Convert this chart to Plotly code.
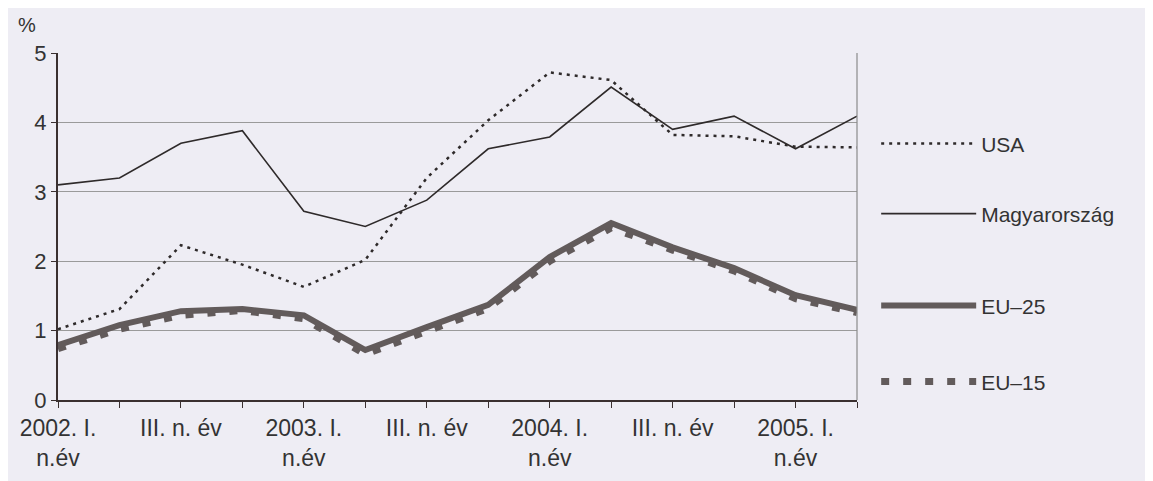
import plotly.graph_objects as go

# quarters 2002 Q1 .. 2005 Q2
quarters = ["2002. I.", "2002. II.", "2002. III.", "2002. IV.",
            "2003. I.", "2003. II.", "2003. III.", "2003. IV.",
            "2004. I.", "2004. II.", "2004. III.", "2004. IV.",
            "2005. I.", "2005. II."]
tick_labels = ["2002. I.<br>n.év", "", "III. n. év", "",
               "2003. I.<br>n.év", "", "III. n. év", "",
               "2004. I.<br>n.év", "", "III. n. év", "",
               "2005. I.<br>n.év", ""]

usa = [1.02, 1.31, 2.23, 1.95, 1.63, 2.02, 3.20, 4.03, 4.72, 4.61, 3.82, 3.80, 3.65, 3.64]
magyar = [3.10, 3.20, 3.70, 3.88, 2.72, 2.50, 2.88, 3.62, 3.79, 4.51, 3.90, 4.09, 3.62, 4.09]
eu25 = [0.79, 1.08, 1.28, 1.31, 1.22, 0.72, 1.05, 1.37, 2.06, 2.55, 2.20, 1.90, 1.51, 1.30]
eu15 = [0.74, 1.02, 1.22, 1.29, 1.17, 0.66, 0.99, 1.32, 2.00, 2.48, 2.16, 1.86, 1.46, 1.26]

BG = "#EEEDF4"
FONT = "Liberation Sans, Arial, sans-serif"
x = list(range(len(quarters)))

fig = go.Figure()
fig.add_trace(go.Scatter(x=x, y=eu15, name="EU–15", mode="lines", legend="legend4",
                         line=dict(color="#625b5b", width=7, dash="8px,14px")))
fig.add_trace(go.Scatter(x=x, y=eu25, name="EU–25", mode="lines", legend="legend3",
                         line=dict(color="#625b5b", width=6)))
fig.add_trace(go.Scatter(x=x, y=magyar, name="Magyarország", mode="lines", legend="legend2",
                         line=dict(color="#2e2a2a", width=1.6)))
fig.add_trace(go.Scatter(x=x, y=usa, name="USA", mode="lines", legend="legend",
                         line=dict(color="#2e2a2a", width=2.5, dash="3px,5px")))

def leg(y):
    return dict(x=1.024, y=y, xanchor="left", yanchor="middle", bgcolor="rgba(0,0,0,0)",
                itemwidth=95, font=dict(family=FONT, size=21, color="#333"))

fig.update_layout(
    width=1153, height=481,
    margin=dict(l=45, r=304, t=45, b=89),
    paper_bgcolor=BG, plot_bgcolor=BG,
    font=dict(family=FONT, color="#333"),
    showlegend=True,
    legend=leg(0.738), legend2=leg(0.536), legend3=leg(0.271), legend4=leg(0.052),
    annotations=[dict(text="%", x=-0.0386, y=1.08, xref="paper", yref="paper",
                      xanchor="center", yanchor="middle", showarrow=False,
                      font=dict(family=FONT, size=20, color="#333"))],
    shapes=[dict(type="line", xref="paper", yref="paper", x0=1, x1=1, y0=0, y1=1,
                 line=dict(color="#8a8a8a", width=1.2))],
)
fig.update_xaxes(range=[0, len(quarters) - 1], tickvals=x, ticktext=tick_labels,
                 showgrid=False, zeroline=False, showline=True, linecolor="#3a3030",
                 linewidth=2, ticks="outside", ticklen=6, tickcolor="#3a3030",
                 tickfont=dict(family=FONT, size=23, color="#333"))
fig.update_yaxes(range=[0, 5], dtick=1, showgrid=True, gridcolor="#9a9a9a", gridwidth=1,
                 zeroline=False, showline=True, linecolor="#3a3030", linewidth=2,
                 ticks="outside", ticklen=5, tickcolor="#3a3030",
                 tickfont=dict(family=FONT, size=22, color="#333"))

fig.write_html("out.html")
